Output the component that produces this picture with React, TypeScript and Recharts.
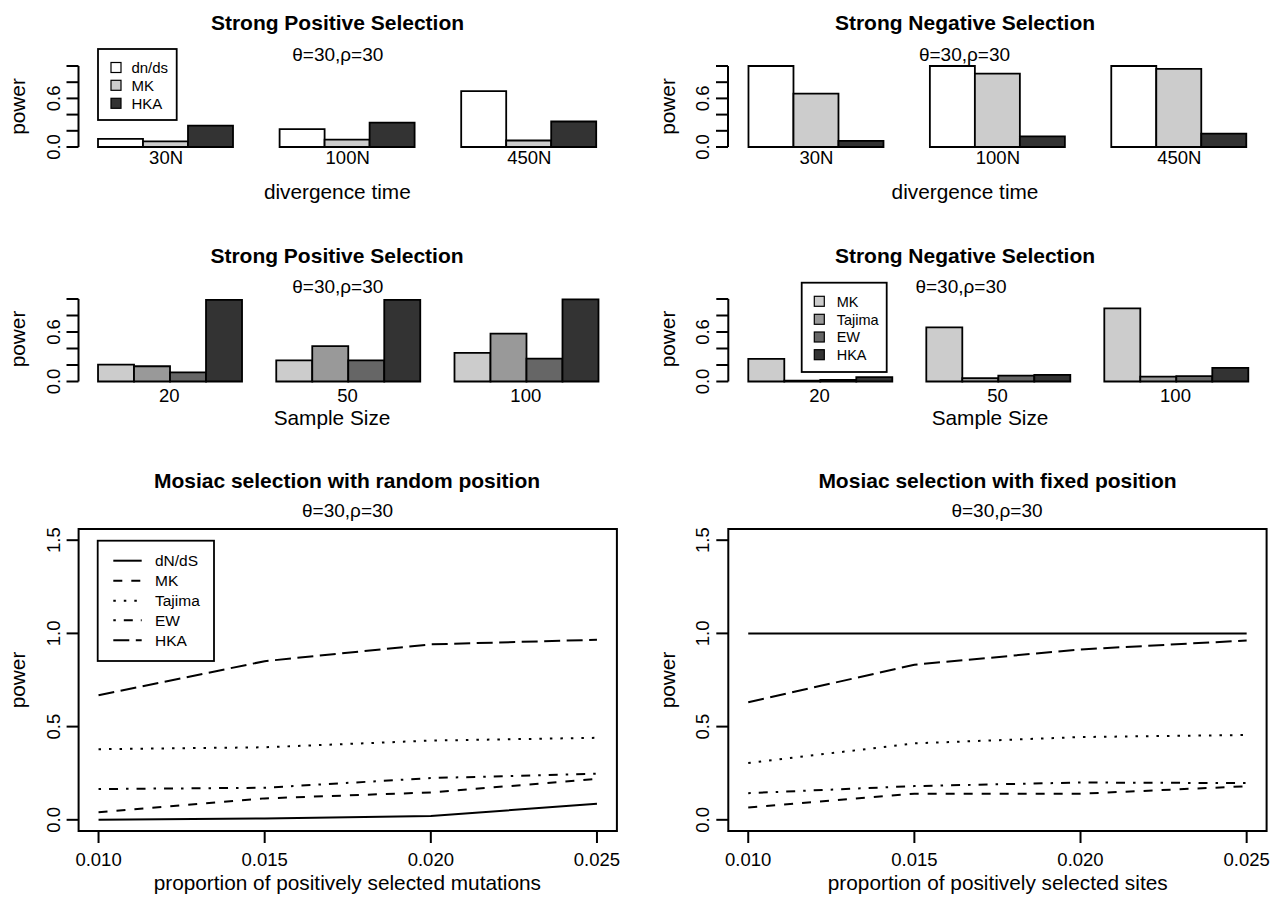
import React from 'react';
import { BarChart, Bar, LineChart, Line, XAxis, YAxis, ReferenceArea } from 'recharts';

const FONT = '"Liberation Sans", Arial, Helvetica, sans-serif';
const W = 1282;
const H = 902;
const AXIS_W = 40;
const XAXIS_H = 30;

// top row: power by divergence time
const divergenceTimes = ['30N', '100N', '450N'];
const posDivDnds = [0.1, 0.22, 0.69];
const posDivMk = [0.07, 0.09, 0.08];
const posDivHka = [0.265, 0.3, 0.315];
const negDivDnds = [1.0, 1.0, 1.0];
const negDivMk = [0.66, 0.905, 0.965];
const negDivHka = [0.075, 0.13, 0.165];

// middle row: power by sample size
const sampleSizes = ['20', '50', '100'];
const posSizeMk = [0.205, 0.257, 0.347];
const posSizeTajima = [0.185, 0.43, 0.58];
const posSizeEw = [0.11, 0.257, 0.278];
const posSizeHka = [0.99, 0.99, 0.995];
const negSizeMk = [0.274, 0.657, 0.887];
const negSizeTajima = [0.01, 0.04, 0.06];
const negSizeEw = [0.02, 0.072, 0.064];
const negSizeHka = [0.052, 0.08, 0.165];

// bottom row: mosaic selection
const proportions = [0.01, 0.015, 0.02, 0.025];
const randDnds = [0, 0.007, 0.02, 0.086];
const randMk = [0.04, 0.115, 0.147, 0.219];
const randTajima = [0.379, 0.389, 0.425, 0.44];
const randEw = [0.165, 0.172, 0.224, 0.247];
const randHka = [0.668, 0.851, 0.941, 0.966];
const fixedDnds = [1, 1, 1, 1];
const fixedMk = [0.066, 0.14, 0.14, 0.18];
const fixedTajima = [0.305, 0.41, 0.444, 0.455];
const fixedEw = [0.143, 0.181, 0.2, 0.197];
const fixedHka = [0.631, 0.832, 0.914, 0.962];

const barTicks = [0, 0.2, 0.4, 0.6, 0.8, 1];
const barTickLabels = ['0.0', '', '', '0.6', '', ''];
const lineTicksY = [0, 0.5, 1, 1.5];
const lineTickLabelsY = ['0.0', '0.5', '1.0', '1.5'];
const lineTickLabelsX = ['0.010', '0.015', '0.020', '0.025'];

const divSeries = [
  { key: 'dnds', name: 'dn/ds', fill: '#ffffff' },
  { key: 'mk', name: 'MK', fill: '#cccccc' },
  { key: 'hka', name: 'HKA', fill: '#333333' },
];
const sizeSeries = [
  { key: 'mk', name: 'MK', fill: '#cccccc' },
  { key: 'tajima', name: 'Tajima', fill: '#999999' },
  { key: 'ew', name: 'EW', fill: '#666666' },
  { key: 'hka', name: 'HKA', fill: '#333333' },
];
const lineSeries = [
  { key: 'dnds', name: 'dN/dS', dash: undefined as string | undefined },
  { key: 'mk', name: 'MK', dash: '9 9' },
  { key: 'tajima', name: 'Tajima', dash: '2.5 8' },
  { key: 'ew', name: 'EW', dash: '2.5 8 9 8' },
  { key: 'hka', name: 'HKA', dash: '16 6.5' },
];

const divPos = divergenceTimes.map((c, i) => ({ cat: c, dnds: posDivDnds[i], mk: posDivMk[i], hka: posDivHka[i] }));
const divNeg = divergenceTimes.map((c, i) => ({ cat: c, dnds: negDivDnds[i], mk: negDivMk[i], hka: negDivHka[i] }));
const sizePos = sampleSizes.map((c, i) => ({
  cat: c, mk: posSizeMk[i], tajima: posSizeTajima[i], ew: posSizeEw[i], hka: posSizeHka[i],
}));
const sizeNeg = sampleSizes.map((c, i) => ({
  cat: c, mk: negSizeMk[i], tajima: negSizeTajima[i], ew: negSizeEw[i], hka: negSizeHka[i],
}));
const mosaicRandom = proportions.map((x, i) => ({
  x, dnds: randDnds[i], mk: randMk[i], tajima: randTajima[i], ew: randEw[i], hka: randHka[i],
}));
const mosaicFixed = proportions.map((x, i) => ({
  x, dnds: fixedDnds[i], mk: fixedMk[i], tajima: fixedTajima[i], ew: fixedEw[i], hka: fixedHka[i],
}));

const axisStroke = { stroke: '#000', strokeWidth: 2 };

const CatTick = (props: any) => (
  <text x={props.x} y={props.baseline} textAnchor="middle" fontSize={18.5} fontFamily={FONT} fill="#000">
    {props.label ?? props.payload.value}
  </text>
);

const RotTick = (props: any) => {
  const i = props.ticks.indexOf(props.payload.value);
  const label = i >= 0 ? props.labels[i] : '';
  if (!label) return <g />;
  return (
    <text transform={`translate(${props.labelX},${props.y}) rotate(-90)`} textAnchor="middle"
      fontSize={18.5} fontFamily={FONT} fill="#000">
      {label}
    </text>
  );
};

type Plot = { left: number; right: number; top: number; bottom: number };

function BarPanel({ data, series, plot, pad, gap, tickY, labelX }: any) {
  const p: Plot = plot;
  return (
    <div style={{ position: 'absolute', left: 0, top: 0 }}>
      <BarChart width={W} height={H} data={data} barGap={0} barCategoryGap={gap}
        margin={{ left: p.left - AXIS_W, right: W - p.right, top: p.top, bottom: H - p.bottom - XAXIS_H }}>
        <XAxis dataKey="cat" height={XAXIS_H} axisLine={false} tickLine={false} padding={pad} interval={0}
          tick={(t: any) => <CatTick {...t} baseline={tickY} />} />
        <YAxis width={AXIS_W} type="number" domain={[0, 1]} ticks={barTicks} interval={0} tickSize={12}
          stroke="#000" axisLine={axisStroke} tickLine={axisStroke}
          tick={(t: any) => <RotTick {...t} labelX={labelX} ticks={barTicks} labels={barTickLabels} />} />
        {series.map((s: any) => (
          <Bar key={s.key} dataKey={s.key} name={s.name} fill={s.fill} stroke="#000" strokeWidth={1.8}
            isAnimationActive={false} />
        ))}
      </BarChart>
    </div>
  );
}

function LinePanel({ data, plot, labelX }: any) {
  const p: Plot = plot;
  return (
    <div style={{ position: 'absolute', left: 0, top: 0 }}>
      <LineChart width={W} height={H} data={data}
        margin={{ left: p.left - AXIS_W, right: W - p.right, top: p.top, bottom: H - p.bottom - XAXIS_H }}>
        <XAxis dataKey="x" type="number" domain={[0.0094, 0.0256]} ticks={proportions} interval={0}
          allowDataOverflow height={XAXIS_H} tickSize={12} stroke="#000" axisLine={false} tickLine={axisStroke}
          tick={(t: any) => (
            <CatTick {...t} baseline={866} label={lineTickLabelsX[proportions.indexOf(t.payload.value)]} />
          )} />
        <YAxis width={AXIS_W} type="number" domain={[-0.06, 1.56]} ticks={lineTicksY} interval={0}
          allowDataOverflow tickSize={12} stroke="#000" axisLine={false} tickLine={axisStroke}
          tick={(t: any) => <RotTick {...t} labelX={labelX} ticks={lineTicksY} labels={lineTickLabelsY} />} />
        <ReferenceArea x1={0.0094} x2={0.0256} y1={-0.06} y2={1.56} fill="none" fillOpacity={0}
          stroke="#000" strokeWidth={2} ifOverflow="visible" />
        {lineSeries.map((s) => (
          <Line key={s.key} dataKey={s.key} name={s.name} type="linear" stroke="#000" strokeWidth={2}
            strokeDasharray={s.dash} dot={false} activeDot={false} isAnimationActive={false} />
        ))}
      </LineChart>
    </div>
  );
}

const SUB = 'θ=30,ρ=30';
const titles = [
  { text: 'Strong Positive Selection', x: 337.5, y: 30 },
  { text: 'Strong Negative Selection', x: 965, y: 30 },
  { text: 'Strong Positive Selection', x: 337, y: 263 },
  { text: 'Strong Negative Selection', x: 965, y: 263 },
  { text: 'Mosiac selection with random position', x: 347, y: 488 },
  { text: 'Mosiac selection with fixed position', x: 997.5, y: 488 },
];
const subtitles = [
  { x: 337.8, y: 61 }, { x: 964.5, y: 61 }, { x: 337.8, y: 293 },
  { x: 961, y: 293 }, { x: 347.6, y: 516.7 }, { x: 997, y: 516.7 },
];
const xLabels = [
  { text: 'divergence time', x: 337.3, y: 199 },
  { text: 'divergence time', x: 965, y: 199 },
  { text: 'Sample Size', x: 332, y: 425 },
  { text: 'Sample Size', x: 990, y: 425 },
  { text: 'proportion of positively selected mutations', x: 347.3, y: 890 },
  { text: 'proportion of positively selected sites', x: 997.7, y: 890 },
];
const yLabels = [
  { x: 24.6, y: 106.5 }, { x: 675, y: 106.5 }, { x: 24.6, y: 339 },
  { x: 675, y: 339 }, { x: 24.6, y: 680 }, { x: 675, y: 680 },
];

function BoxLegend({ x, y, w, h, rows, series, textX, squareX, size }: any) {
  return (
    <g>
      <rect x={x} y={y} width={w} height={h} fill="#fff" stroke="#000" strokeWidth={1.8} />
      {series.map((s: any, i: number) => (
        <g key={s.key}>
          <rect x={squareX} y={rows[i] - 5} width={10} height={10} fill={s.fill} stroke="#000" strokeWidth={1.2} />
          <text x={textX} y={rows[i] + 5.2} fontSize={size} fontFamily={FONT} fill="#000">{s.name}</text>
        </g>
      ))}
    </g>
  );
}

function LineLegend() {
  const rows = [560.7, 580.7, 600.7, 620.3, 640.2];
  return (
    <g>
      <rect x={97.7} y={540.7} width={116.3} height={120.3} fill="#fff" stroke="#000" strokeWidth={1.8} />
      {lineSeries.map((s, i) => (
        <g key={s.key}>
          <line x1={113.3} x2={141.7} y1={rows[i]} y2={rows[i]} stroke="#000" strokeWidth={2}
            strokeDasharray={s.dash} />
          <text x={155} y={rows[i] + 5.5} fontSize={15.5} fontFamily={FONT} fill="#000">{s.name}</text>
        </g>
      ))}
    </g>
  );
}

export default function App() {
  return (
    <div style={{ position: 'absolute', left: 0, top: 0, width: W, height: H, background: '#fff', fontFamily: FONT }}>
      <BarPanel data={divPos} series={divSeries} plot={{ left: 78.5, right: 617, top: 66, bottom: 147 }}
        pad={{ left: -3.2, right: -3.1 }} gap="12.5%" tickY={163.5} labelX={59.5} />
      <BarPanel data={divNeg} series={divSeries} plot={{ left: 728, right: 1267.3, top: 66, bottom: 147 }}
        pad={{ left: -2.2, right: -2.7 }} gap="12.5%" tickY={163.5} labelX={708.5} />
      <BarPanel data={sizePos} series={sizeSeries} plot={{ left: 78.5, right: 617, top: 299, bottom: 381.5 }}
        pad={{ left: 1.7, right: 2.1 }} gap="10%" tickY={402} labelX={59.5} />
      <BarPanel data={sizeNeg} series={sizeSeries} plot={{ left: 728.3, right: 1267.3, top: 299, bottom: 381.5 }}
        pad={{ left: 2.2, right: 2.8 }} gap="10%" tickY={402} labelX={708.5} />
      <LinePanel data={mosaicRandom} plot={{ left: 78.6, right: 616.9, top: 529, bottom: 831 }} labelX={60} />
      <LinePanel data={mosaicFixed} plot={{ left: 728.3, right: 1266.6, top: 529, bottom: 831 }} labelX={709} />
      <svg width={W} height={H} style={{ position: 'absolute', left: 0, top: 0 }}>
        {titles.map((t, i) => (
          <text key={'t' + i} x={t.x} y={t.y} textAnchor="middle" fontSize={21} fontWeight="bold"
            fontFamily={FONT} fill="#000">{t.text}</text>
        ))}
        {subtitles.map((t, i) => (
          <text key={'s' + i} x={t.x} y={t.y} textAnchor="middle" fontSize={19} fontFamily={FONT} fill="#000">
            {SUB}
          </text>
        ))}
        {xLabels.map((t, i) => (
          <text key={'x' + i} x={t.x} y={t.y} textAnchor="middle" fontSize={20.8} fontFamily={FONT} fill="#000">
            {t.text}
          </text>
        ))}
        {yLabels.map((t, i) => (
          <text key={'y' + i} transform={`translate(${t.x},${t.y}) rotate(-90)`} textAnchor="middle"
            fontSize={20.8} fontFamily={FONT} fill="#000">power</text>
        ))}
        <BoxLegend x={98} y={49} w={78.7} h={71} rows={[67.5, 85.3, 103.3]} series={divSeries}
          squareX={111} textX={131.4} size={15} />
        <BoxLegend x={801.7} y={282.7} w={85} h={89.3} rows={[301.3, 319.3, 337, 354.7]} series={sizeSeries}
          squareX={814.3} textX={836.7} size={14.5} />
        <LineLegend />
      </svg>
    </div>
  );
}
